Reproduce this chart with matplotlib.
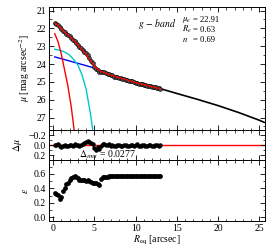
import matplotlib
matplotlib.use("Agg")
import matplotlib.pyplot as plt
from matplotlib.ticker import MultipleLocator

plt.rcParams['font.family'] = ['Liberation Serif', 'DejaVu Serif']
plt.rcParams['mathtext.fontset'] = 'stix'

# ---------------- data ----------------
radius = [0.2, 0.4, 0.6, 0.8, 1.0, 1.2, 1.4, 1.6, 1.8, 2.0,
          2.2, 2.4, 2.6, 2.8, 3.0, 3.2, 3.4, 3.6, 3.8, 4.0,
          4.2, 4.4, 4.6, 4.8, 5.0, 5.2, 5.4, 5.6, 5.8, 6.0,
          6.2, 6.4, 6.6, 6.8, 7.0, 7.2, 7.4, 7.6, 7.8, 8.0,
          8.2, 8.4, 8.6, 8.8, 9.0, 9.2, 9.4, 9.6, 9.8, 10.0,
          10.2, 10.4, 10.6, 10.8, 11.0, 11.2, 11.4, 11.6, 11.8, 12.0,
          12.2, 12.4, 12.6, 12.8, 13.0]

mu_fit = [21.70, 21.77, 21.84, 21.93, 22.02, 22.11, 22.20, 22.29, 22.37, 22.45,
          22.54, 22.63, 22.72, 22.82, 22.92, 23.02, 23.13, 23.24, 23.35, 23.47,
          23.59, 23.72, 23.85, 23.98, 24.10, 24.20, 24.28, 24.35, 24.41, 24.45,
          24.49, 24.52, 24.56, 24.59, 24.62, 24.65, 24.68, 24.70, 24.73, 24.76,
          24.79, 24.82, 24.84, 24.87, 24.90, 24.93, 24.96, 24.98, 25.01, 25.04,
          25.06, 25.09, 25.11, 25.14, 25.16, 25.18, 25.20, 25.23, 25.25, 25.27,
          25.29, 25.31, 25.34, 25.36, 25.38]

dmu = [0.00, -0.01, -0.03, 0.02, 0.03, 0.01, -0.01, 0.02, 0.01, -0.01,
       0.00, 0.01, -0.02, -0.01, 0.00, 0.01, -0.01, -0.03, -0.05, -0.07,
       -0.08, -0.06, -0.04, -0.02, 0.06, 0.10, 0.03, 0.08, 0.02, -0.03,
       -0.02, -0.01, 0.00, -0.02, 0.01, -0.01, 0.02, 0.01, -0.01, 0.00,
       0.02, 0.01, -0.01, 0.00, 0.01, 0.02, 0.00, -0.01, 0.01, 0.00,
       -0.02, 0.01, 0.02, 0.00, -0.01, 0.01, 0.02, 0.00, -0.01, 0.01,
       0.02, -0.01, 0.00, 0.01, 0.00]

mu_err = [0.03, 0.03, 0.03, 0.03, 0.03, 0.03, 0.03, 0.03, 0.03, 0.03,
          0.03, 0.03, 0.03, 0.03, 0.03, 0.03, 0.04, 0.04, 0.04, 0.04,
          0.04, 0.04, 0.04, 0.05, 0.05, 0.05, 0.05, 0.05, 0.06, 0.06,
          0.06, 0.06, 0.06, 0.07, 0.07, 0.07, 0.07, 0.08, 0.08, 0.08,
          0.08, 0.09, 0.09, 0.09, 0.10, 0.10, 0.10, 0.10, 0.11, 0.11,
          0.11, 0.12, 0.12, 0.12, 0.12, 0.13, 0.13, 0.13, 0.14, 0.14,
          0.14, 0.15, 0.15, 0.15, 0.15]

ellip = [0.33, 0.32, 0.31, 0.25, 0.28, 0.37, 0.41, 0.46, 0.48, 0.51,
         0.54, 0.56, 0.57, 0.56, 0.54, 0.52, 0.51, 0.52, 0.51, 0.50,
         0.51, 0.50, 0.49, 0.48, 0.48, 0.47, 0.46, 0.44, 0.53, 0.55,
         0.55, 0.56, 0.56, 0.57, 0.57, 0.57, 0.57, 0.57, 0.57, 0.57,
         0.57, 0.57, 0.57, 0.57, 0.57, 0.57, 0.57, 0.57, 0.57, 0.57,
         0.57, 0.57, 0.57, 0.57, 0.57, 0.57, 0.57, 0.57, 0.57, 0.57,
         0.57, 0.57, 0.57, 0.57, 0.57]

# total model (black) over the full range
model_r = [0.2, 0.5, 1.0, 1.5, 2.0, 2.5, 3.0, 3.5, 4.0, 4.5, 5.0, 5.5, 6.0,
           7.0, 8.0, 9.0, 10.0, 11.0, 12.0, 13.0, 15.0, 17.5, 20.0, 22.5, 25.0, 25.6]
model_mu = [21.70, 21.80, 22.02, 22.25, 22.45, 22.67, 22.92, 23.18, 23.47, 23.78,
            24.10, 24.32, 24.45, 24.62, 24.76, 24.90, 25.04, 25.16, 25.27, 25.38,
            25.65, 25.98, 26.33, 26.72, 27.15, 27.27]

# components
red_r = [0.2, 0.6, 1.0, 1.4, 1.8, 2.2, 2.6]
red_mu = [22.30, 22.75, 23.45, 24.35, 25.25, 26.40, 27.90]

cyan_r = [0.2, 1.0, 1.5, 2.0, 2.5, 3.0, 3.5, 4.0, 4.5, 4.9]
cyan_mu = [23.17, 23.25, 23.35, 23.50, 23.75, 24.05, 24.60, 25.40, 26.70, 28.00]

blue_r = [0.2, 1.0, 2.0, 3.0, 4.0, 5.0, 6.0, 8.0, 10.0, 13.0]
blue_mu = [23.60, 23.70, 23.83, 23.96, 24.09, 24.22, 24.46, 24.78, 25.06, 25.40]

mu_obs = [m + d for m, d in zip(mu_fit, dmu)]

band_label = r'$g\,-\,band$'
param_names = [r'$\mu_e$', r'$R_e$', r'$n$']
param_values = ['22.91', '0.63', '0.69']
rms_text = r'$\Delta_{rms}$ = 0.0277'

# ---------------- figure ----------------
fig = plt.figure(figsize=(2.74, 2.49), dpi=100)
L, W = 0.1788, 0.7884
ax1 = fig.add_axes([L, 0.4779, W, 0.494])
ax2 = fig.add_axes([L, 0.3574, W, 0.1205], sharex=ax1)
ax3 = fig.add_axes([L, 0.1124, W, 0.245], sharex=ax1)

fs = 7

ax1.plot(blue_r, blue_mu, color='blue', lw=1.0, zorder=2)
ax1.plot(cyan_r, cyan_mu, color='#00c8c8', lw=1.0, zorder=2)
ax1.plot(red_r, red_mu, color='red', lw=1.0, zorder=2)
ax1.plot(model_r, model_mu, color='black', lw=1.2, zorder=3)
ax1.errorbar(radius, mu_obs, yerr=mu_err, fmt='o', ms=2.8, mfc='#555555',
             mec='black', mew=0.4, ecolor='#999999', elinewidth=1.2,
             capsize=0, zorder=4)
ax1.plot(radius, mu_fit, color='red', lw=0.9, zorder=5)
ax1.set_ylim(27.7, 20.8)
ax1.yaxis.set_major_locator(MultipleLocator(1))
ax1.yaxis.set_minor_locator(MultipleLocator(0.5))
ax1.set_ylabel(r'$\mu$ [mag arcsec$^{-2}$]', fontsize=fs, labelpad=3)
ax1.text(0.41, 0.86, band_label, transform=ax1.transAxes, fontsize=fs,
         ha='left', va='center')
for i, (nm, val) in enumerate(zip(param_names, param_values)):
    y = 0.895 - i * 0.08
    ax1.text(0.615, y, nm, transform=ax1.transAxes, fontsize=6.2,
             ha='left', va='center')
    ax1.text(0.668, y, '= ' + val, transform=ax1.transAxes, fontsize=6.2,
             ha='left', va='center')

ax2.axhline(0.0, color='red', lw=1.0, zorder=1)
ax2.plot(radius, dmu, color='black', lw=0.9, zorder=2)
ax2.plot(radius, dmu, 'o', color='black', ms=2.2, zorder=3)
ax2.set_ylim(0.3, -0.3)
ax2.yaxis.set_major_locator(MultipleLocator(0.2))
ax2.yaxis.set_minor_locator(MultipleLocator(0.1))
ax2.set_ylabel(r'$\Delta\mu$', fontsize=fs, labelpad=3)
ax2.text(0.14, 0.16, rms_text, transform=ax2.transAxes, fontsize=fs,
         ha='left', va='center')

ax3.plot(radius, ellip, 'o', color='black', ms=2.4)
ax3.set_ylim(-0.05, 0.79)
ax3.yaxis.set_major_locator(MultipleLocator(0.2))
ax3.yaxis.set_minor_locator(MultipleLocator(0.1))
ax3.set_ylabel(r'$\epsilon$', fontsize=fs, labelpad=3)
ax3.set_xlabel(r'$R_{\rm eq}$ [arcsec]', fontsize=fs, labelpad=1)

ax1.set_xlim(-0.5, 25.7)
ax1.xaxis.set_major_locator(MultipleLocator(5))
ax1.xaxis.set_minor_locator(MultipleLocator(1))

for ax in (ax1, ax2, ax3):
    ax.tick_params(which='both', direction='in', top=True, right=True,
                   labelsize=fs, pad=2)
    ax.tick_params(which='major', length=3.5, width=0.6)
    ax.tick_params(which='minor', length=1.8, width=0.5)
    for s in ax.spines.values():
        s.set_linewidth(0.7)
for ax in (ax1, ax2):
    ax.tick_params(labelbottom=False)

fig.align_ylabels([ax1, ax2, ax3])
fig.savefig('out.png', dpi=100)
